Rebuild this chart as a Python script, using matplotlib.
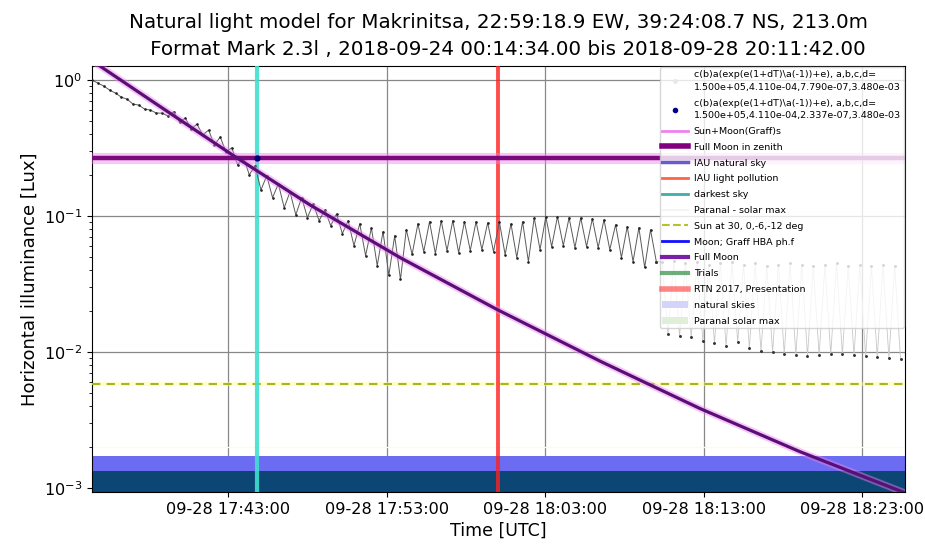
import matplotlib
matplotlib.use('Agg')
import matplotlib.pyplot as plt
import matplotlib.dates as mdates
import matplotlib.ticker as mticker
from matplotlib.lines import Line2D
from matplotlib.patches import Patch
import pandas as pd

# ---------------- data ----------------
DAY = '2018-09-28'
title_lines = ["Natural light model for Makrinitsa, 22:59:18.9 EW, 39:24:08.7 NS, 213.0m",
               "   Format Mark 2.3l , 2018-09-24 00:14:34.00 bis 2018-09-28 20:11:42.00"]
x_label = "Time [UTC]"
y_label = "Horizontal illuminance [Lux]"
x_range = ['17:34:25', '18:25:41']
y_range = [0.00094, 1.27]
tick_times = ['17:43:00', '17:53:00', '18:03:00', '18:13:00', '18:23:00']

# measured illuminance, sampled every 22 s
sample_start = '17:34:26'
sample_step_s = 22
measured_lux = [
    1.0, 0.95, 0.904, 0.845, 0.803, 0.75, 0.725, 0.667, 0.656, 0.613, 0.603, 0.573, 0.573, 0.545,
    0.586, 0.492, 0.527, 0.437, 0.476, 0.395, 0.430, 0.334, 0.382, 0.297, 0.318, 0.238, 0.272, 0.2015,
    0.235, 0.156, 0.198, 0.137, 0.173, 0.1155, 0.151, 0.1025, 0.137, 0.0977, 0.1234, 0.0928, 0.1115,
    0.0852, 0.104, 0.0745, 0.0928, 0.0607, 0.0881, 0.0513, 0.0822, 0.0433, 0.0772, 0.0367, 0.072,
    0.0343, 0.0797, 0.0524,
    0.0881, 0.0549, 0.0912, 0.0531, 0.0927, 0.0559, 0.0927, 0.0540, 0.0912, 0.0559, 0.0912, 0.0568,
    0.0896, 0.0549, 0.0912, 0.0522, 0.0881, 0.0497, 0.0912, 0.0464, 0.0975, 0.0568, 0.0992, 0.0598,
    0.0992, 0.0608, 0.0975, 0.0588, 0.0975, 0.0598, 0.0959, 0.0588, 0.0943, 0.0568, 0.0867, 0.0497,
    0.0838, 0.0464, 0.0824, 0.0420, 0.0797, 0.0464,
    0.046, 0.01355, 0.047, 0.0131, 0.045, 0.01288, 0.046, 0.01204, 0.044, 0.01164, 0.045, 0.01107,
    0.046, 0.01184, 0.044, 0.0107, 0.045, 0.01017, 0.043, 0.0100, 0.044, 0.00967, 0.045, 0.00951,
    0.044, 0.00935, 0.043, 0.00951, 0.044, 0.00967, 0.045, 0.00967, 0.043, 0.00951, 0.044, 0.00935,
    0.043, 0.00919, 0.044, 0.00904, 0.043, 0.00889,
]
faint_from_index = 97   # samples from here on are drawn faint (behind legend)

# Sun+Moon model curve
moon_times = ['17:34:25', '17:38:45', '17:43:20', '17:48:10', '17:53:50',
              '18:00:00', '18:06:30', '18:12:45', '18:19:00', '18:25:40']
moon_lux = [1.39, 0.635, 0.279, 0.121, 0.0497, 0.0205, 0.00855, 0.00386, 0.00187, 0.000927]

full_moon_zenith = 0.267
sun_minus12 = 0.0058
paranal_level = 0.0020
iau_band = (0.00134, 0.00173)
dark_band = (0.0009, 0.00134)
cyan_time = '17:44:50'
red_time = '18:00:00'
fit_point_lux = 0.268

legend_labels = [
    "c(b)a(exp(e(1+dT)\\a(-1))+e), a,b,c,d=\n1.500e+05,4.110e-04,7.790e-07,3.480e-03",
    "c(b)a(exp(e(1+dT)\\a(-1))+e), a,b,c,d=\n1.500e+05,4.110e-04,2.337e-07,3.480e-03",
    "Sun+Moon(Graff)s", "Full Moon in zenith", "IAU natural sky", "IAU light pollution",
    "darkest sky", "Paranal - solar max", "Sun at 30, 0,-6,-12 deg", "Moon; Graff HBA ph.f",
    "Full Moon", "Trials", "RTN 2017, Presentation", "natural skies", "Paranal solar max",
]

# ---------------- plot ----------------
def T(s):
    return pd.to_datetime(DAY + ' ' + s)

fig = plt.figure(figsize=(9.25, 5.46), dpi=100)
ax = fig.add_axes([0.0995, 0.099, 0.8789, 0.780])
ax.set_yscale('log')

sample_times = pd.date_range(T(sample_start), periods=len(measured_lux),
                             freq=pd.Timedelta(seconds=sample_step_s))

# bands
ax.axhspan(*dark_band, color='#0b4675', zorder=2, lw=0)
ax.axhspan(*iau_band, color='#6c6cf2', zorder=2, lw=0)
ax.axhline(paranal_level, color='#fffbe0', lw=1.0, zorder=2)

# sun -12 deg dashed
ax.axhline(sun_minus12, color='#ffff99', lw=3, alpha=0.5, zorder=2.5)
ax.axhline(sun_minus12, color='#a8b422', lw=1.5, ls=(0, (4, 3)), zorder=2.6)

# vertical lines
ax.axvline(T(cyan_time), color='#3fe0d0', lw=3, alpha=0.9, zorder=2.8)
ax.axvline(T(red_time), color='#ff2020', lw=2.8, alpha=0.8, zorder=2.8)

# measured data
n = faint_from_index
ax.plot(sample_times[:n + 1], measured_lux[:n + 1], color='#5a5a5a', lw=0.7, marker='.',
        ms=1.8, mfc='#222222', mec='#222222', zorder=3.5)
ax.plot(sample_times[n:], measured_lux[n:], color='#c8c8c8', lw=0.6, marker='.',
        ms=2.2, mfc='#333333', mec='#333333', zorder=3.5)

# full moon zenith
ax.axhline(full_moon_zenith, color='#f080f0', lw=8, alpha=0.45, zorder=4)
ax.axhline(full_moon_zenith, color='#7a0a7a', lw=3.2, zorder=4.1)

# sun+moon curve
mt = [T(s) for s in moon_times]
ax.plot(mt, moon_lux, color='#ee82ee', lw=5.0, alpha=0.45, zorder=4)
ax.plot(mt, moon_lux, color='#5a0f78', lw=2.3, zorder=4.1)

# fit point
ax.plot([T(cyan_time)], [fit_point_lux], 'o', color='#00007a', ms=3.5, zorder=4.5)

ax.set_xlim(T(x_range[0]), T(x_range[1]))
ax.set_ylim(*y_range)
ax.xaxis.set_major_locator(mticker.FixedLocator([mdates.date2num(T(t)) for t in tick_times]))
ax.xaxis.set_major_formatter(mdates.DateFormatter('%m-%d %H:%M:%S'))
ax.tick_params(axis='both', labelsize=11.6)
ax.grid(True, which='major', color='#888888', lw=0.9)
ax.set_axisbelow(True)
ax.set_xlabel(x_label, fontsize=12.5)
ax.set_ylabel(y_label, fontsize=13)
ax.set_title(title_lines[0] + "\n" + title_lines[1], fontsize=14.3, pad=8, linespacing=1.5)

handles = [
    Line2D([], [], ls='none', marker='.', color='#e8e8e8', ms=5),
    Line2D([], [], ls='none', marker='.', color='#00008b', ms=6),
    Line2D([], [], color='#ee82ee', lw=2),
    Line2D([], [], color='#800080', lw=4),
    Line2D([], [], color='#6a5acd', lw=2.5),
    Line2D([], [], color='#ff6347', lw=2),
    Line2D([], [], color='#3cb0a8', lw=2),
    Line2D([], [], color='#f4f4f4', lw=1.5),
    Line2D([], [], color='#b8c030', lw=1.5, ls='--'),
    Line2D([], [], color='#1010ff', lw=2),
    Line2D([], [], color='#7a1fa8', lw=3),
    Line2D([], [], color='#4a9a5a', lw=3, alpha=0.8),
    Line2D([], [], color='#ff5050', lw=4, alpha=0.7),
    Patch(facecolor='#d4d4fa', edgecolor='none'),
    Patch(facecolor='#e0f0d8', edgecolor='none'),
]
leg = ax.legend(handles, legend_labels, loc='upper right', fontsize=6.8,
                borderaxespad=0.15, handlelength=2.7, labelspacing=0.72,
                borderpad=0.3, handletextpad=0.6, framealpha=0.8)
for t in leg.get_texts():
    t.set_linespacing(1.5)
leg.set_zorder(10)

fig.savefig('out.png', dpi=100)
